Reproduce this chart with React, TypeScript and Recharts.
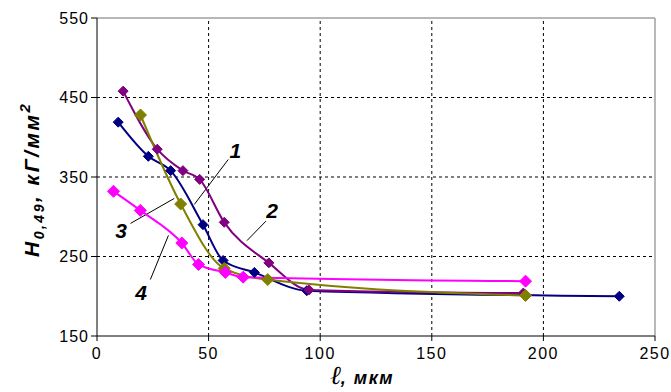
import React from 'react'
import {
  LineChart,
  Line,
  XAxis,
  YAxis,
  ReferenceLine,
  ReferenceDot,
} from 'recharts'

// curve 1 (navy)
const x1 = [9.5, 23, 33, 47.5, 56.5, 70.5, 94, 234]
const y1 = [419, 376, 358, 290, 245, 230, 207, 200]
// curve 2 (purple)
const x2 = [11.7, 27, 38.5, 46, 57, 77, 95, 191]
const y2 = [458, 385, 358, 347, 293, 242, 208, 204]
// curve 3 (olive)
const x3 = [19.5, 37.5, 57, 76.5, 192]
const y3 = [428, 316, 235, 221, 201]
// curve 4 (pink)
const x4 = [7.4, 19.4, 38, 45.5, 57.5, 65.5, 192]
const y4 = [332, 308, 267, 240, 230, 224, 219]

const xTicks = [0, 50, 100, 150, 200, 250]
const yTicks = [150, 250, 350, 450, 550]
const gridX = [50, 100, 150, 200]
const gridY = [250, 350, 450]

// curve number labels and their leader lines (data units)
const tagNames = ['1', '2', '3', '4']
const tagPos = [
  { x: 62, y: 383 },
  { x: 78.4, y: 308 },
  { x: 10.8, y: 282.6 },
  { x: 19.7, y: 205 },
]
const leaders = [
  [{ x: 58.8, y: 372 }, { x: 43.6, y: 315.5 }],
  [{ x: 75.7, y: 294.5 }, { x: 67.2, y: 270 }],
  [{ x: 15, y: 291.6 }, { x: 34.6, y: 323 }],
  [{ x: 23.9, y: 221 }, { x: 32, y: 276.5 }],
]

const toPoints = (xs: number[], ys: number[]) => xs.map((x, i) => ({ x, y: ys[i] }))

const series = [
  { name: '1', data: toPoints(x1, y1), color: '#000080', size: 5 },
  { name: '2', data: toPoints(x2, y2), color: '#800080', size: 5 },
  { name: '3', data: toPoints(x3, y3), color: '#808000', size: 6 },
  { name: '4', data: toPoints(x4, y4), color: '#FF00FF', size: 6 },
]

const FONT = '"Liberation Sans", Arial, sans-serif'

const diamond = (color: string, s: number) => (props: any) => {
  const { cx, cy, index } = props
  if (cx == null || cy == null) return <g key={index} />
  return (
    <polygon
      key={index}
      points={`${cx},${cy - s} ${cx + s},${cy} ${cx},${cy + s} ${cx - s},${cy}`}
      fill={color}
      stroke={color}
      strokeWidth={1}
    />
  )
}

const YTitle = () => (
  <text
    transform="translate(39,257) rotate(-90)"
    fontFamily={FONT}
    fontWeight="bold"
    fontStyle="italic"
    fontSize={21}
    fill="#000"
    letterSpacing={2.5}
  >
    <tspan>Н</tspan>
    <tspan fontSize={14} dy={5}>0,49</tspan>
    <tspan dy={-5}>, кГ/мм</tspan>
    <tspan fontSize={15} dy={-9}>2</tspan>
  </text>
)

const XTitle = () => (
  <text x={330} y={384} fill="#000">
    <tspan fontFamily='"DejaVu Serif", serif' fontStyle="italic" fontSize={26}>ℓ</tspan>
    <tspan
      fontFamily={FONT}
      fontWeight="bold"
      fontStyle="italic"
      fontSize={18}
      letterSpacing={1.5}
    >
      , мкм
    </tspan>
  </text>
)

export default function App() {
  return (
    <div style={{ position: 'absolute', left: 0, top: 0, width: 671, height: 392, background: '#fff' }}>
      <LineChart
        width={671}
        height={392}
        margin={{ top: 18, right: 16, left: 0, bottom: 0 }}
      >
        <XAxis
          type="number"
          dataKey="x"
          domain={[0, 250]}
          ticks={xTicks}
          allowDataOverflow
          height={56}
          stroke="#000"
          tickSize={5}
          tickMargin={7}
          tick={{ fill: '#000', fontSize: 16, fontFamily: FONT, letterSpacing: 1.5 }}
          label={<XTitle />}
        />
        <YAxis
          type="number"
          dataKey="y"
          domain={[150, 550]}
          ticks={yTicks}
          allowDataOverflow
          width={97}
          stroke="#000"
          tickSize={6}
          tickMargin={2}
          tick={{ fill: '#000', fontSize: 16, fontFamily: FONT, letterSpacing: 1 }}
          label={<YTitle />}
        />
        {gridX.map((v) => (
          <ReferenceLine key={`gx${v}`} x={v} stroke="#000" strokeDasharray="3 3" />
        ))}
        {gridY.map((v) => (
          <ReferenceLine key={`gy${v}`} y={v} stroke="#000" strokeDasharray="3 3" />
        ))}
        <ReferenceLine y={550} stroke="#a0a0a0" strokeWidth={1.5} />
        <ReferenceLine x={250} stroke="#a0a0a0" strokeWidth={1.5} />
        {leaders.map((seg, i) => (
          <ReferenceLine key={`ld${i}`} segment={seg} stroke="#000" strokeWidth={1} />
        ))}
        {series.map((s) => (
          <Line
            key={s.name}
            data={s.data}
            dataKey="y"
            type="monotone"
            stroke={s.color}
            strokeWidth={2}
            dot={diamond(s.color, s.size)}
            activeDot={false}
            isAnimationActive={false}
          />
        ))}
        {tagPos.map((p, i) => (
          <ReferenceDot
            key={`tag${i}`}
            x={p.x}
            y={p.y}
            r={0}
            shape={(props: any) => (
              <text
                x={props.cx}
                y={props.cy}
                textAnchor="middle"
                dominantBaseline="central"
                fontFamily={FONT}
                fontWeight="bold"
                fontStyle="italic"
                fontSize={21}
                fill="#000"
              >
                {tagNames[i]}
              </text>
            )}
          />
        ))}
      </LineChart>
    </div>
  )
}
